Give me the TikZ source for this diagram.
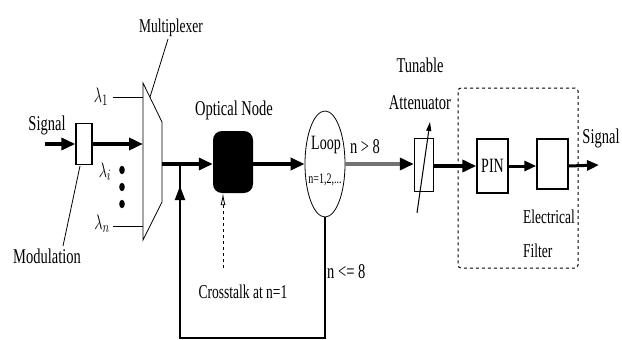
\documentclass[tikz,border=0pt]{standalone}
\usepackage{fontspec}
\setmainfont{Liberation Serif}
\usetikzlibrary{arrows.meta,shapes.geometric}
\newcommand{\tx}[1]{\scalebox{1}[1.45]{#1}}
\begin{document}
\begin{tikzpicture}[x=1pt,y=-1pt,
  lbl/.style={inner sep=0pt, font=\fontsize{14.5}{16}\selectfont},
  lblsm/.style={inner sep=0pt, font=\fontsize{13.5}{15}\selectfont},
  thin line/.style={line width=0.8pt},
  thickarr/.style={line width=3.5pt, -{Triangle[length=14pt,width=12pt]}},
  boxstyle/.style={draw, line width=1.4pt, inner sep=0pt},
]
\useasboundingbox[fill=white] (0,0) rectangle (622,340);

% multiplexer
\draw[line width=0.8pt] (143,83) -- (162,122) -- (162,202) -- (143,240) -- cycle;
\node[lblsm] (mlab) at (171,28) {\tx{Multiplexer}};
\coordinate (mpt) at (150,97);
\draw[thin line] (mlab.south) ++(-3,2) -- (mpt);

% inputs
\node[lbl, font=\fontsize{15}{17}\selectfont] (l1) at (101,97) {\tx{$\lambda_1$}};
\node[lbl, font=\fontsize{15}{17}\selectfont] (li) at (105,172) {\tx{$\lambda_i$}};
\node[lbl, font=\fontsize{15}{17}\selectfont] (ln) at (102,224) {\tx{$\lambda_n$}};
\coordinate (m1) at (143,97);
\coordinate (mn) at (143,226);
\draw[thin line] (l1.east) ++(5,0) -- (m1);
\draw[thin line] (ln.east) ++(3,2) -- (mn);
\foreach \yy/\nm in {170/d1,187/d2,204/d3}
  \fill (122,\yy) ellipse (2.8pt and 4.2pt);

% modulation
\node[boxstyle, minimum width=16pt, minimum height=41pt] (mod) at (84,144) {};
\node[lbl] (sigin) at (47,125) {\tx{Signal}};
\coordinate (sstart) at (45,144);
\coordinate (muxin) at (143,144);
\draw[thickarr] (sstart) -- (mod.west);
\draw[thickarr] (mod.east) -- (muxin);
\node[lbl] (modlab) at (47,256) {\tx{Modulation}};
\coordinate (modpt) at (80,166);
\draw[thin line] (63,246) -- (modpt);

% main path
\coordinate (muxout) at (162,164);
\coordinate (junc) at (180,164);
\node[fill=black, rounded corners=9pt, minimum width=40pt, minimum height=62pt, inner sep=0pt] (on) at (233,162) {};
\node[lbl] (onlab) at (234,110) {\tx{Optical Node}};
\draw[thickarr] (muxout) -- (on.west |- muxout);

\node[draw, ellipse, line width=0.8pt, minimum width=40pt, minimum height=106pt, inner sep=0pt] (loop) at (325,164) {};
\node[lbl, font=\fontsize{14}{16}\selectfont] (looplab) at (326,145) {\tx{Loop}};
\node[lbl, font=\fontsize{10}{12}\selectfont] (loopn) at (325,180) {\tx{n=1,2,...}};
\draw[thickarr] (on.east |- muxout) -- (loop.west);

% crosstalk
\node[lblsm] (ctlab) at (243,292) {\tx{Crosstalk at n=1}};
\coordinate (ctstart) at (223,268);
\draw[thin line, dashed, -{Latex[open,length=12pt,width=5pt]}] (ctstart) -- (on.south -| ctstart);

% feedback
\coordinate (fb1) at (325,338);
\coordinate (fb2) at (180,338);
\coordinate (fbtip) at (180,186);
\draw[line width=2pt] (loop.south) -- (fb1) -- (fb2) -- (fbtip);
\draw[line width=2pt, -{Triangle[length=14pt,width=10pt]}] (fb2) -- (fbtip);
\draw[line width=2pt] (fbtip) -- (junc);
\node[lbl, anchor=west] (nle) at (327,272) {\tx{n <= 8}};

% attenuator
\node[boxstyle, minimum width=19pt, minimum height=53pt] (att) at (424,165) {};
\coordinate (attlo) at (417,213);
\coordinate (atthi) at (430,122);
\draw[line width=1pt, -{Triangle[length=9pt,width=5pt]}] (attlo) -- (atthi);
\node[lbl] (tun) at (420,65) {\tx{Tunable}};
\node[lbl] (attlab) at (420,103) {\tx{Attenuator}};
\node[lbl] (ngt) at (365,147) {\tx{n > 8}};
\draw[line width=3.5pt, black!55, -{Triangle[length=14pt,width=12pt,color=black]}] (loop.east) -- (att.west |- loop.east);

% receiver
\node[draw, dashed, line width=1pt, rounded corners=3pt, minimum width=120pt, minimum height=180pt, inner sep=0pt] (grp) at (518,178) {};
\node[boxstyle, minimum width=31pt, minimum height=54pt, font=\fontsize{14}{15}\selectfont] (pin) at (492.5,166) {\tx{PIN}};
\node[boxstyle, minimum width=31pt, minimum height=50pt] (filt) at (552.5,164) {};
\coordinate (sout) at (599,165);
\draw[thickarr] (att.east |- pin.west) -- (pin.west);
\draw[line width=3pt, -{Triangle[length=12pt,width=10pt]}] (pin.east) -- (filt.west |- pin.east);
\draw[line width=3pt, -{Triangle[length=12pt,width=10pt]}] (filt.east |- pin.east) -- (sout);
\node[lbl] (sigout) at (601,138) {\tx{Signal}};
\node[lblsm, anchor=west] (el) at (523,217) {\tx{Electrical}};
\node[lblsm, anchor=west] (fl) at (523,251) {\tx{Filter}};
\end{tikzpicture}
\end{document}
